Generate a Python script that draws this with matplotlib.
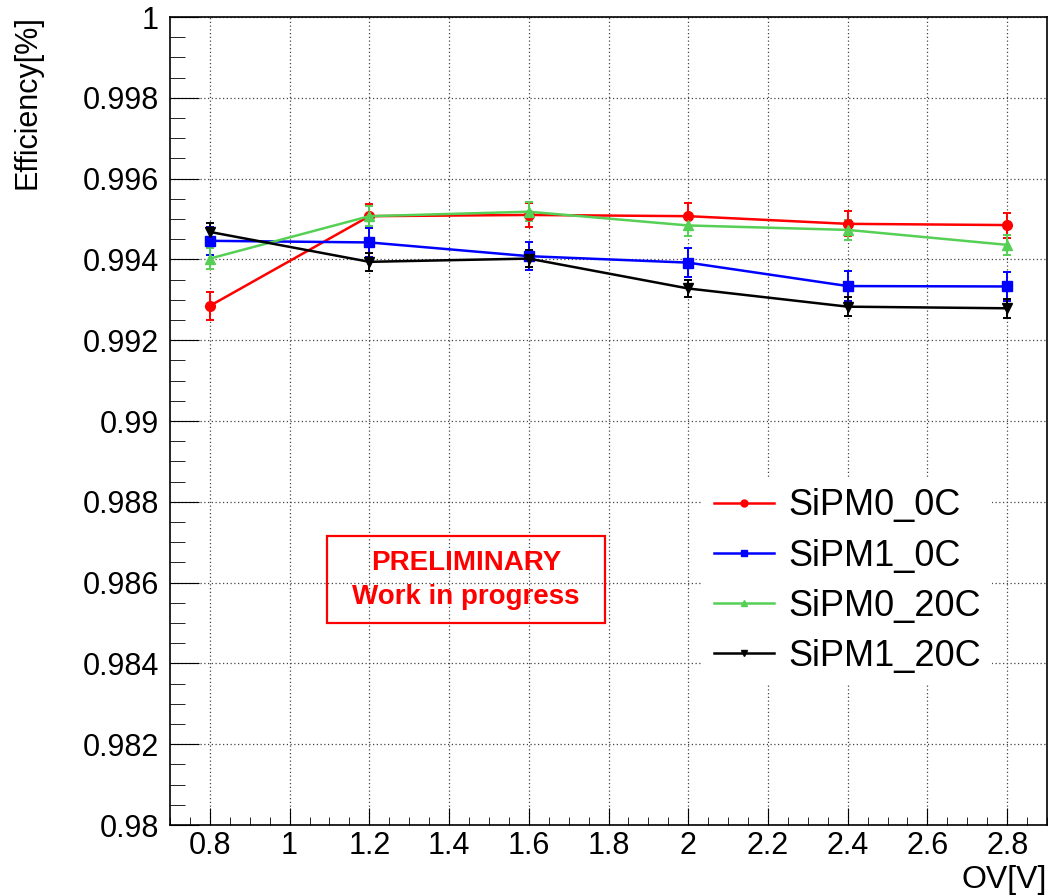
import matplotlib
matplotlib.use("Agg")
import matplotlib.pyplot as plt
from matplotlib.ticker import MultipleLocator, FuncFormatter
from matplotlib.patches import Rectangle

plt.rcParams['font.family'] = ['Liberation Sans', 'DejaVu Sans']

# data
ov = [0.8, 1.2, 1.6, 2.0, 2.4, 2.8]
sipm0_0c = [0.99285, 0.99507, 0.99510, 0.99507, 0.99488, 0.99485]
sipm0_0c_err = [0.00035, 0.00030, 0.00030, 0.00032, 0.00031, 0.00031]
sipm1_0c = [0.99446, 0.99442, 0.99408, 0.99392, 0.99334, 0.99333]
sipm1_0c_err = [0.00035, 0.00035, 0.00035, 0.00035, 0.00037, 0.00037]
sipm0_20c = [0.99402, 0.99507, 0.99518, 0.99484, 0.99473, 0.99436]
sipm0_20c_err = [0.00025, 0.00025, 0.00024, 0.00025, 0.00025, 0.00025]
sipm1_20c = [0.99468, 0.99394, 0.99402, 0.99328, 0.99283, 0.99279]
sipm1_20c_err = [0.00022, 0.00022, 0.00022, 0.00022, 0.00023, 0.00023]

labels = ["SiPM0_0C", "SiPM1_0C", "SiPM0_20C", "SiPM1_20C"]
colors = ["#ff0000", "#0000ff", "#55d055", "#000000"]
markers = ["o", "s", "^", "v"]

fig = plt.figure(figsize=(10.51, 8.96), dpi=100)
ax = fig.add_axes([170/1051, 71/896, 877/1051, 808/896])

series = [(sipm0_0c, sipm0_0c_err), (sipm1_0c, sipm1_0c_err),
          (sipm0_20c, sipm0_20c_err), (sipm1_20c, sipm1_20c_err)]
handles = []
for (y, e), lab, c, m in zip(series, labels, colors, markers):
    ax.errorbar(ov, y, yerr=e, color=c, lw=1.6, elinewidth=1.4, capsize=3,
                capthick=1.4, fmt='none', zorder=3)
    h, = ax.plot(ov, y, color=c, lw=1.8, marker=m, ms=7, label=lab, zorder=4)
    handles.append(h)

ax.set_xlim(0.7, 2.9)
ax.set_ylim(0.98, 1.0)
ax.xaxis.set_major_locator(MultipleLocator(0.2))
ax.xaxis.set_minor_locator(MultipleLocator(0.05))
ax.yaxis.set_major_locator(MultipleLocator(0.002))
ax.yaxis.set_minor_locator(MultipleLocator(0.0005))
fmt = FuncFormatter(lambda v, p: "%g" % round(v, 6))
ax.xaxis.set_major_formatter(fmt)
ax.yaxis.set_major_formatter(fmt)
ax.tick_params(which='both', direction='in', top=False, right=False,
               labelsize=22, colors='black')
ax.tick_params(axis='y', which='major', length=21, pad=8)
ax.tick_params(axis='y', which='minor', length=11)
ax.tick_params(axis='x', which='major', length=12, pad=4)
ax.tick_params(axis='x', which='minor', length=6)
ax.grid(True, which='major', ls=(0, (1, 2)), color='#444444', lw=0.9)
for s in ax.spines.values():
    s.set_linewidth(1.2)

fig.text(28/1051, 1 - 15/896, "Efficiency[%]", rotation=90, ha='center',
         va='top', fontsize=22)
fig.text(1047/1051, 1 - 888/896, "OV[V]", ha='right', va='baseline', fontsize=23)

leg = ax.legend(handles=handles, loc='upper left', bbox_to_anchor=(0.608, 0.43),
                borderaxespad=0, frameon=True, fontsize=26, handlelength=1.65,
                handletextpad=0.4, labelspacing=0.42, borderpad=0.3, numpoints=1)
leg.get_frame().set_edgecolor('none')
leg.get_frame().set_facecolor('white')
leg.get_frame().set_alpha(1)
for line in leg.get_lines():
    line.set_markersize(5)

# preliminary box
ax.add_patch(Rectangle((1.094, 0.98500), 0.697, 0.00215, fill=False,
                       edgecolor='red', lw=1.6, zorder=5))
ax.text(1.443, 0.98648, "PRELIMINARY", color='red', fontsize=20,
        fontweight='bold', ha='center', va='center', zorder=5)
ax.text(1.443, 0.98564, "Work in progress", color='red', fontsize=20,
        fontweight='bold', ha='center', va='center', zorder=5)

fig.savefig("out.png", dpi=100)
